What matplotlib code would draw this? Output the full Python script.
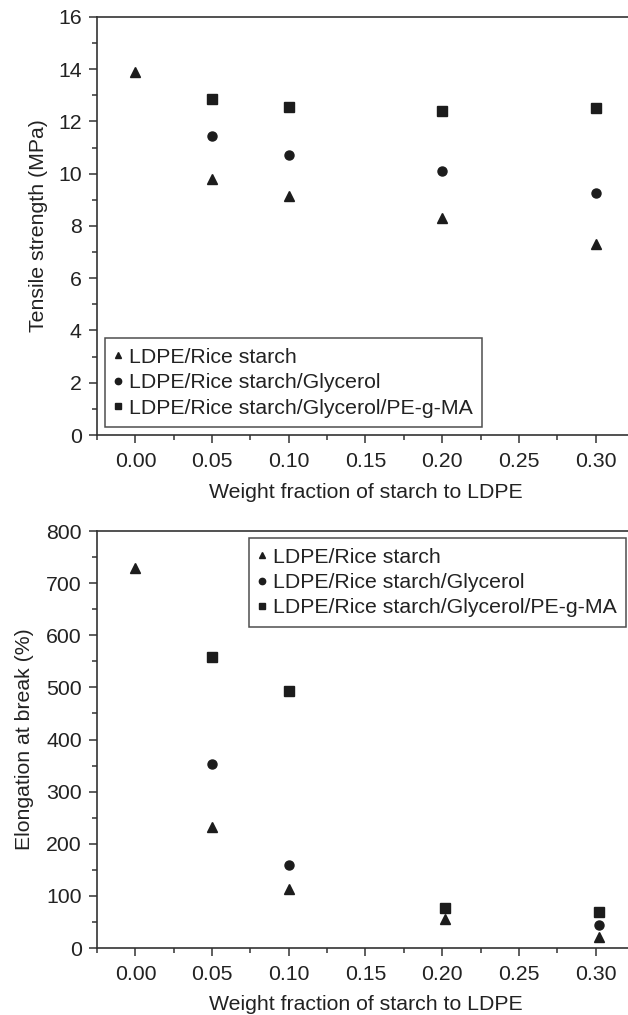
import matplotlib
matplotlib.use('Agg')
import matplotlib.pyplot as plt
from matplotlib.ticker import MultipleLocator, FormatStrFormatter

plt.rcParams['font.family'] = ['Liberation Sans', 'DejaVu Sans']

# Data
x_ts = [0.00, 0.05, 0.10, 0.20, 0.30]
ts_rice = [13.9, 9.8, 9.15, 8.3, 7.3]
x_ts_gly = [0.05, 0.10, 0.20, 0.30]
ts_gly = [11.45, 10.72, 10.1, 9.27]
ts_pegma = [12.85, 12.55, 12.4, 12.5]

x_el = [0.00, 0.05, 0.10, 0.202, 0.302]
el_rice = [730, 232, 113, 56, 22]
x_el_gly = [0.05, 0.10, 0.302]
el_gly = [354, 159, 45]
x_el_pegma = [0.05, 0.10, 0.202, 0.302]
el_pegma = [558, 493, 76, 70]

labels = ['LDPE/Rice starch', 'LDPE/Rice starch/Glycerol',
          'LDPE/Rice starch/Glycerol/PE-g-MA']

ink = '#1c1c1c'
fs = 15.3

fig = plt.figure(figsize=(6.28, 10.15), dpi=100)
ax1 = fig.add_axes([0.1545, 0.5714, 0.855, 0.412])
ax2 = fig.add_axes([0.1545, 0.066, 0.855, 0.4108])


def style(ax):
    for s in ax.spines.values():
        s.set_linewidth(1.2)
        s.set_color('#333333')
    ax.xaxis.set_major_locator(MultipleLocator(0.05))
    ax.xaxis.set_minor_locator(MultipleLocator(0.025))
    ax.xaxis.set_major_formatter(FormatStrFormatter('%.2f'))
    ax.set_xlim(-0.025, 0.325)
    ax.tick_params(which='major', direction='out', length=6, width=1.1,
                   labelsize=fs, colors='#333333', labelcolor='#222222', pad=5)
    ax.tick_params(axis='x', which='major', pad=6.5)
    ax.tick_params(which='minor', direction='out', length=3.5, width=1.1,
                   colors='#333333')
    ax.tick_params(top=False, right=False, which='both')
    ax.set_xlabel('Weight fraction of starch to LDPE', fontsize=fs,
                  color='#222222', labelpad=8)


ms = 7
ax1.plot(x_ts, ts_rice, '^', color=ink, ms=ms, label=labels[0])
ax1.plot(x_ts_gly, ts_gly, 'o', color=ink, ms=ms - 0.5, label=labels[1])
ax1.plot(x_ts_gly, ts_pegma, 's', color=ink, ms=ms - 0.5, label=labels[2])
style(ax1)
ax1.set_ylim(0, 16)
ax1.yaxis.set_major_locator(MultipleLocator(2))
ax1.yaxis.set_minor_locator(MultipleLocator(1))
ax1.set_ylabel('Tensile strength (MPa)', fontsize=fs, color='#222222', labelpad=7)

ax2.plot(x_el, el_rice, '^', color=ink, ms=ms, label=labels[0])
ax2.plot(x_el_gly, el_gly, 'o', color=ink, ms=ms - 0.5, label=labels[1])
ax2.plot(x_el_pegma, el_pegma, 's', color=ink, ms=ms - 0.5, label=labels[2])
style(ax2)
ax2.set_ylim(0, 800)
ax2.yaxis.set_major_locator(MultipleLocator(100))
ax2.yaxis.set_minor_locator(MultipleLocator(50))
ax2.set_ylabel('Elongation at break (%)', fontsize=fs, color='#222222', labelpad=8.5)

leg_kw = dict(fontsize=fs, frameon=True, fancybox=False, markerscale=0.7,
              handlelength=0.3, handletextpad=0.38, labelspacing=0.3,
              borderpad=0.45, borderaxespad=0)
leg1 = ax1.legend(loc='lower left', bbox_to_anchor=(0.015, 0.019), **leg_kw)
leg2 = ax2.legend(loc='upper left', bbox_to_anchor=(0.283, 0.983), **leg_kw)
for leg in (leg1, leg2):
    leg.get_frame().set_edgecolor('#222222')
    leg.get_frame().set_linewidth(1.1)
    for t in leg.get_texts():
        t.set_color('#222222')

fig.savefig('out.png', dpi=100)
